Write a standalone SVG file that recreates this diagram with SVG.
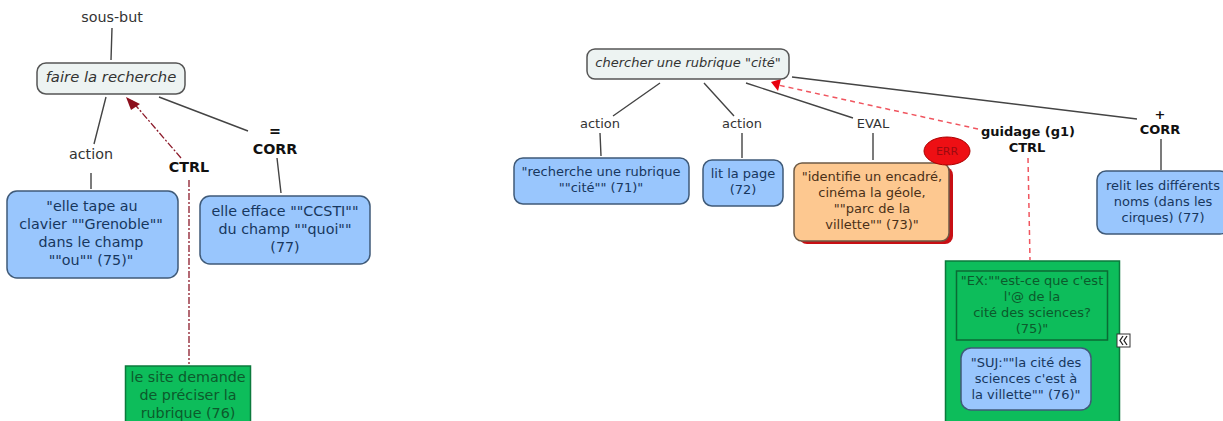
<svg xmlns="http://www.w3.org/2000/svg" width="1223" height="421" viewBox="0 0 1223 421">
<style>
text{font-family:"DejaVu Sans",Verdana,sans-serif;font-size:14.3px;text-anchor:middle;fill:#222}
.lbl{fill:#333}
.b{font-weight:bold;fill:#111}
.it{font-style:italic;fill:#333}
.s{font-size:13px}
.blue{fill:#99c6fd;stroke:#3f5a78;stroke-width:1.5}
.bt{fill:#17375e}
.grn{fill:#0dbd5b;stroke:#0b7a3c;stroke-width:1.5}
.gt{fill:#0c5a2c}
.ot{fill:#4a3018}
.goal{fill:#edf3f2;stroke:#555;stroke-width:1.5}
.c{stroke:#444;stroke-width:1.4;fill:none}
.dr{stroke:#8c1a2a;stroke-width:1.3;fill:none;stroke-dasharray:7 2 2 2}
.rd{stroke:#f0555f;stroke-width:1.5;fill:none;stroke-dasharray:5 4}
</style>
<rect width="1223" height="421" fill="#fff"/>
<g id="connectors">
<path class="c" d="M112 28L111 60M106 97L94 144M91 173V189M159 97L248 131M277 158L281 193"/>
<path class="dr" d="M181 158L131 100M189 180V364"/>
<path fill="#8c0f1c" d="M126 97L140 104L131 110Z"/>
<path class="c" d="M660 83L613 116M704 83L734 116M600 133L601 156M742 133V158M746 83L853 118M873 133V160M792 77L1137 119M1161 139V170"/>
<path class="rd" d="M978 129L778 85M1028 158L1030 260"/>
<path fill="#e8000f" d="M771 82L781 79L778 91Z"/>
</g>
<g id="n-sous-but"><text class="lbl" x="112" y="22">sous-but</text></g>
<g id="n-faire"><rect class="goal" x="37" y="63" width="148" height="31" rx="9"/><text class="it" x="111" y="82" style="font-size:14.8px">faire la recherche</text></g>
<g id="n-action1"><text class="lbl" x="91" y="159">action</text></g>
<g id="n-ctrl1"><text class="b" x="189" y="172">CTRL</text></g>
<g id="n-corr1"><text class="b" x="275" y="136">=</text><text class="b" x="275" y="154">CORR</text></g>
<g id="n-elle-tape"><rect class="blue" x="7" y="191" width="171" height="87" rx="10"/><text class="bt" x="92" y="211">"elle tape au</text><text class="bt" x="91" y="229">clavier ""Grenoble""</text><text class="bt" x="91" y="247">dans le champ</text><text class="bt" x="91" y="265">""ou"" (75)"</text></g>
<g id="n-elle-efface"><rect class="blue" x="200" y="196" width="170" height="68" rx="10"/><text class="bt" x="285" y="216">elle efface ""CCSTI""</text><text class="bt" x="285" y="234">du champ ""quoi""</text><text class="bt" x="285" y="252">(77)</text></g>
<g id="n-site"><rect class="grn" x="125.500" y="366" width="125" height="60"/><text class="gt" x="188" y="382">le site demande</text><text class="gt" x="188" y="400">de préciser la</text><text class="gt" x="188" y="418">rubrique (76)</text></g>
<g id="n-chercher"><rect class="goal" x="587" y="49" width="202" height="30" rx="8"/><text class="it s" x="688" y="67">chercher une rubrique "cité"</text></g>
<g id="n-action2"><text class="lbl s" x="600" y="128">action</text></g>
<g id="n-action3"><text class="lbl s" x="742" y="128">action</text></g>
<g id="n-eval"><text class="lbl s" x="873" y="128">EVAL</text></g>
<g id="n-guidage"><text class="b s" x="1028" y="136">guidage (g1)</text><text class="b s" x="1027" y="152">CTRL</text></g>
<g id="n-corr2"><text class="b s" x="1160" y="119">+</text><text class="b s" x="1160" y="134">CORR</text></g>
<g id="n-recherche"><rect class="blue" x="514" y="158" width="175" height="46" rx="9"/><text class="bt s" x="601" y="176">"recherche une rubrique</text><text class="bt s" x="601" y="192">""cité"" (71)"</text></g>
<g id="n-lit"><rect class="blue" x="703" y="160" width="80" height="46" rx="9"/><text class="bt s" x="743" y="178">lit la page</text><text class="bt s" x="743" y="194">(72)</text></g>
<g id="n-identifie"><rect x="799" y="167" width="154" height="77" rx="8" fill="#c80f14"/><rect x="794" y="163" width="155" height="78" rx="8" fill="#fdc890" stroke="#6d5a45" stroke-width="1.500"/><text class="ot s" x="872" y="181">"identifie un encadré,</text><text class="ot s" x="872" y="197">cinéma la géole,</text><text class="ot s" x="872" y="213">""parc de la</text><text class="ot s" x="872" y="229">villette"" (73)"</text></g>
<g id="n-err"><ellipse cx="947" cy="151" rx="23" ry="14" fill="#ee0f14" stroke="#a00" stroke-width="1"/><text x="947" y="155" style="font-size:11px;fill:#9c0a10">ERR</text></g>
<g id="n-relit"><rect class="blue" x="1097" y="171" width="132" height="63" rx="9"/><text class="bt s" x="1163" y="190">relit les différents</text><text class="bt s" x="1163" y="206">noms (dans les</text><text class="bt s" x="1163" y="222">cirques) (77)</text></g>
<g id="n-groupe"><rect class="grn" x="945.500" y="261" width="174" height="170"/></g>
<g id="n-ex"><rect x="956.500" y="271" width="151" height="69" fill="#0dbd5b" stroke="#0b6a34" stroke-width="1.500"/><text class="gt s" x="1032" y="285">"EX:""est-ce que c'est</text><text class="gt s" x="1032" y="301">l'@ de la</text><text class="gt s" x="1032" y="317">cité des sciences?</text><text class="gt s" x="1032" y="333">(75)"</text></g>
<g id="n-suj"><rect class="blue" x="961" y="348" width="130" height="62" rx="10"/><text class="bt s" x="1026" y="367">"SUJ:""la cité des</text><text class="bt s" x="1026" y="383">sciences c'est à</text><text class="bt s" x="1026" y="399">la villette"" (76)"</text></g>
<g id="n-expand"><rect x="1117" y="334" width="13" height="13" fill="#fff" stroke="#333"/><path d="M1123 336l-3 4.500l3 4.500M1127 336l-3 4.500l3 4.500" fill="none" stroke="#222" stroke-width="1.300"/></g>
</svg>
